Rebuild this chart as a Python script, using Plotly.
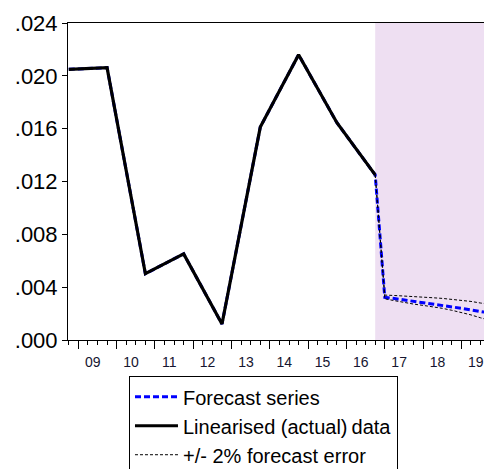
import plotly.graph_objects as go

# ---- data ----
hist_x = [2008.75, 2009.75, 2010.75, 2011.75, 2012.75, 2013.75, 2014.75, 2015.75, 2016.75]
hist_y = [0.02049, 0.02062, 0.00502, 0.00652, 0.00121, 0.01612, 0.02160, 0.01645, 0.01250]

fc_x = [2017.0, 2017.25, 2017.5, 2017.75, 2018.0, 2018.25, 2018.5, 2018.75,
        2019.0, 2019.25, 2019.5, 2019.75]
fc_y = [0.00323, 0.00314, 0.00304, 0.00294, 0.00284, 0.00273, 0.00262, 0.00251,
        0.00240, 0.00228, 0.00216, 0.00204]
upper_y = [0.00340, 0.00337, 0.00334, 0.00330, 0.00326, 0.00320, 0.00315, 0.00309,
           0.00300, 0.00292, 0.00280, 0.00270]
lower_y = [0.00312, 0.00298, 0.00284, 0.00272, 0.00262, 0.00252, 0.00240, 0.00225,
           0.00210, 0.00190, 0.00168, 0.00148]

years = list(range(2009, 2020))
year_labels = ["09", "10", "11", "12", "13", "14", "15", "16", "17", "18", "19"]
y_ticks = [0.000, 0.004, 0.008, 0.012, 0.016, 0.020, 0.024]
y_labels = [".000", ".004", ".008", ".012", ".016", ".020", ".024"]

x_start, x_end = 2008.73, 2019.59
forecast_start = 2016.75

FONT = "Arial, Liberation Sans, sans-serif"

fig = go.Figure()

fig.add_trace(go.Scatter(
    x=hist_x + fc_x, y=hist_y + fc_y, mode="lines",
    name="Forecast series",
    line=dict(color="#0000FF", width=3, dash="6px,3px"),
))
fig.add_trace(go.Scatter(
    x=hist_x, y=hist_y, mode="lines",
    name="Linearised (actual)\u2009data",
    line=dict(color="black", width=3.2),
))
fig.add_trace(go.Scatter(
    x=[hist_x[-1]] + fc_x, y=[hist_y[-1]] + upper_y, mode="lines",
    name="+/- 2% forecast error",
    line=dict(color="black", width=1, dash="3px,2px"),
))
fig.add_trace(go.Scatter(
    x=[hist_x[-1]] + fc_x, y=[hist_y[-1]] + lower_y, mode="lines",
    name="lower", showlegend=False,
    line=dict(color="black", width=1, dash="3px,2px"),
))
fig.add_trace(go.Scatter(x=[x_start, x_end], y=[0, 0], xaxis="x2", mode="lines",
                         line=dict(width=0), showlegend=False, hoverinfo="skip"))

fig.add_shape(type="rect", xref="x", yref="paper", x0=forecast_start, x1=x_end,
              y0=0, y1=1, fillcolor="#EEDFF2", line=dict(width=0), layer="below")

H = 495
fig.update_layout(
    width=484, height=H,
    margin=dict(l=68, r=0, t=23, b=H - 339.6),
    paper_bgcolor="white", plot_bgcolor="white",
    font=dict(family=FONT, color="black"),
    xaxis=dict(
        range=[x_start, x_end], showgrid=False, zeroline=False, automargin=False,
        tickmode="linear", tick0=2009, dtick=1,
        ticks="outside", ticklen=8, tickwidth=1, tickcolor="black",
        showticklabels=False,
        minor=dict(ticks="outside", ticklen=4, tickwidth=1, tickcolor="black",
                   tick0=2009, dtick=0.25),
        showline=True, linecolor="black", linewidth=1, mirror=True,
    ),
    xaxis2=dict(
        overlaying="x", anchor="y", side="bottom", automargin=False,
        range=[x_start, x_end], showgrid=False, zeroline=False, showline=False,
        tickmode="array", tickvals=[y + 0.375 for y in years], ticktext=year_labels,
        ticks="", tickfont=dict(size=14, family=FONT, color="#151530"),
        ticklabelstandoff=12,
    ),
    yaxis=dict(
        range=[0, 0.024], showgrid=False, zeroline=False, automargin=False,
        tickmode="array", tickvals=y_ticks, ticktext=y_labels,
        ticks="outside", ticklen=5, tickwidth=1, tickcolor="black",
        tickfont=dict(size=22, family=FONT, color="black"),
        showline=True, linecolor="black", linewidth=1,
    ),
    legend=dict(
        x=0.1466, y=-0.1143, xanchor="left", yanchor="top",
        bgcolor="white", bordercolor="black", borderwidth=1,
        font=dict(size=20, family=FONT, color="black"),
        itemwidth=43, tracegroupgap=0,
    ),
    showlegend=True,
)

fig.write_html(
    "out.html",
    config={"displayModeBar": False},
    post_script="document.documentElement.style.overflow='hidden';"
                "document.body.style.margin='0';document.body.style.overflow='hidden';",
)
